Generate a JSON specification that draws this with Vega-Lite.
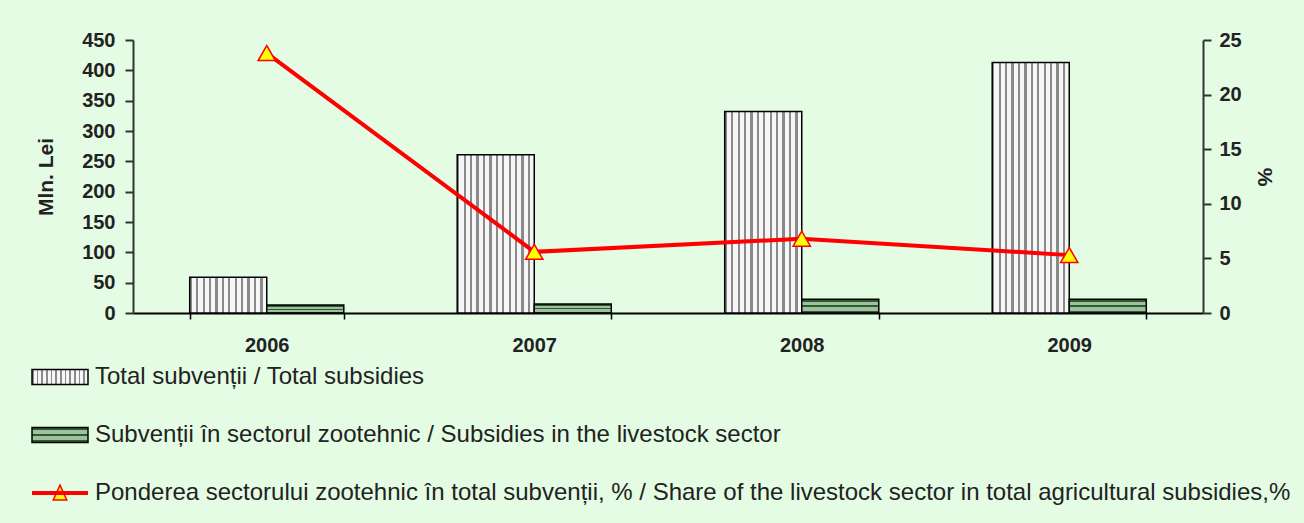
{
  "$schema": "https://vega.github.io/schema/vega-lite/v6.json",
  "width": 1070,
  "height": 273,
  "autosize": {"type": "none"},
  "padding": {"left": 133, "top": 40, "right": 101, "bottom": 210},
  "background": "#e4fce4",
  "config": {"view": {"stroke": null}, "font": "Liberation Sans"},
  "datasets": {
    "bars": [
      {"year": "2006", "series": "Total subvenții / Total subsidies", "value": 59},
      {"year": "2007", "series": "Total subvenții / Total subsidies", "value": 261},
      {"year": "2008", "series": "Total subvenții / Total subsidies", "value": 332},
      {"year": "2009", "series": "Total subvenții / Total subsidies", "value": 413},
      {"year": "2006", "series": "Subvenții în sectorul zootehnic / Subsidies in the livestock sector", "value": 13.2},
      {"year": "2007", "series": "Subvenții în sectorul zootehnic / Subsidies in the livestock sector", "value": 14.8},
      {"year": "2008", "series": "Subvenții în sectorul zootehnic / Subsidies in the livestock sector", "value": 22.6},
      {"year": "2009", "series": "Subvenții în sectorul zootehnic / Subsidies in the livestock sector", "value": 22.8}
    ],
    "share": [
      {"year": "2006", "pct": 23.8},
      {"year": "2007", "pct": 5.6},
      {"year": "2008", "pct": 6.8},
      {"year": "2009", "pct": 5.3}
    ]
  },
  "layer": [
    {
      "data": {"name": "bars"},
      "mark": {"type": "bar", "stroke": "#000000", "strokeWidth": 1.5},
      "encoding": {
        "x": {
          "field": "year", "type": "nominal",
          "scale": {"paddingInner": 0.424, "paddingOuter": 0.212},
          "axis": {
            "title": null, "labelAngle": 0, "labelFontSize": 20, "labelFontWeight": "bold", "labelColor": "#222222",
            "tickBand": "extent", "tickSize": 6, "labelPadding": 16,
            "domainColor": "#000000", "domainWidth": 2, "tickColor": "#000000", "tickWidth": 1.5
          }
        },
        "xOffset": {
          "field": "series", "type": "nominal",
          "sort": ["Total subvenții / Total subsidies", "Subvenții în sectorul zootehnic / Subsidies in the livestock sector"],
          "scale": {"paddingInner": 0, "paddingOuter": 0}
        },
        "y": {
          "field": "value", "type": "quantitative",
          "scale": {"domain": [0, 450], "nice": false},
          "axis": {
            "title": "Mln. Lei", "values": [0, 50, 100, 150, 200, 250, 300, 350, 400, 450],
            "grid": false, "tickSize": 8, "labelPadding": 10, "titlePadding": 25,
            "labelFontSize": 20, "labelFontWeight": "bold", "labelColor": "#222222",
            "titleFontSize": 21, "titleFontWeight": "bold", "titleColor": "#222222",
            "domainColor": "#333333", "domainWidth": 2, "tickColor": "#333333", "tickWidth": 2
          }
        },
        "fill": {
          "field": "series", "type": "nominal",
          "scale": {
            "domain": [
              "Total subvenții / Total subsidies",
              "Subvenții în sectorul zootehnic / Subsidies in the livestock sector",
              "Ponderea sectorului zootehnic în total subvenții, % / Share of the livestock sector in total agricultural subsidies,%"
            ],
            "range": [
              {"expr": "{gradient:'linear',x1:0,y1:0,x2:1,y2:0,stops:[{offset:0,color:'#8a8a8a'},{offset:0.0292,color:'#8a8a8a'},{offset:0.0292,color:'#f6f6f6'},{offset:0.0833,color:'#f6f6f6'},{offset:0.0833,color:'#8a8a8a'},{offset:0.1125,color:'#8a8a8a'},{offset:0.1125,color:'#f6f6f6'},{offset:0.1667,color:'#f6f6f6'},{offset:0.1667,color:'#8a8a8a'},{offset:0.1958,color:'#8a8a8a'},{offset:0.1958,color:'#f6f6f6'},{offset:0.25,color:'#f6f6f6'},{offset:0.25,color:'#8a8a8a'},{offset:0.2792,color:'#8a8a8a'},{offset:0.2792,color:'#f6f6f6'},{offset:0.3333,color:'#f6f6f6'},{offset:0.3333,color:'#8a8a8a'},{offset:0.3625,color:'#8a8a8a'},{offset:0.3625,color:'#f6f6f6'},{offset:0.4167,color:'#f6f6f6'},{offset:0.4167,color:'#8a8a8a'},{offset:0.4458,color:'#8a8a8a'},{offset:0.4458,color:'#f6f6f6'},{offset:0.5,color:'#f6f6f6'},{offset:0.5,color:'#8a8a8a'},{offset:0.5292,color:'#8a8a8a'},{offset:0.5292,color:'#f6f6f6'},{offset:0.5833,color:'#f6f6f6'},{offset:0.5833,color:'#8a8a8a'},{offset:0.6125,color:'#8a8a8a'},{offset:0.6125,color:'#f6f6f6'},{offset:0.6667,color:'#f6f6f6'},{offset:0.6667,color:'#8a8a8a'},{offset:0.6958,color:'#8a8a8a'},{offset:0.6958,color:'#f6f6f6'},{offset:0.75,color:'#f6f6f6'},{offset:0.75,color:'#8a8a8a'},{offset:0.7792,color:'#8a8a8a'},{offset:0.7792,color:'#f6f6f6'},{offset:0.8333,color:'#f6f6f6'},{offset:0.8333,color:'#8a8a8a'},{offset:0.8625,color:'#8a8a8a'},{offset:0.8625,color:'#f6f6f6'},{offset:0.9167,color:'#f6f6f6'},{offset:0.9167,color:'#8a8a8a'},{offset:0.9458,color:'#8a8a8a'},{offset:0.9458,color:'#f6f6f6'},{offset:1,color:'#f6f6f6'}]}"},
              {"expr": "{gradient:'linear',x1:0,y1:0,x2:0,y2:1,stops:[{offset:0,color:'#2f5c2f'},{offset:0.2,color:'#2f5c2f'},{offset:0.2,color:'#9fc09f'},{offset:0.45,color:'#9fc09f'},{offset:0.45,color:'#2f5c2f'},{offset:0.58,color:'#2f5c2f'},{offset:0.58,color:'#9fc09f'},{offset:0.85,color:'#9fc09f'},{offset:0.85,color:'#2f5c2f'},{offset:1,color:'#2f5c2f'}]}"},
              "#ffff00"
            ]
          },
          "legend": {
            "orient": "none", "legendX": -102, "legendY": 308, "direction": "vertical",
            "title": null, "symbolSize": 3136, "symbolStrokeWidth": 1.5, "labelFontSize": 24, "labelColor": "#222222",
            "labelLimit": 1300, "labelOffset": 6, "rowPadding": 17,
            "encoding": {
              "symbols": {
                "shape": {"value": {"expr": "datum.index == 2 ? 'M-1,-0.045H1M-1,-0.015H1M-1,0.015H1M-1,0.045H1M0,-0.28L0.24,0.25L-0.24,0.25Z' : 'M-1,-0.27H1V0.27H-1Z'"}},
                "stroke": {"value": {"expr": "datum.index == 2 ? '#ff0000' : '#000000'"}},
                "opacity": {"value": 1}
              }
            }
          }
        }
      }
    },
    {
      "data": {"name": "share"},
      "encoding": {
        "x": {"field": "year", "type": "nominal"},
        "y": {
          "field": "pct", "type": "quantitative",
          "scale": {"domain": [0, 25], "nice": false},
          "axis": {
            "orient": "right", "title": "%", "values": [0, 5, 10, 15, 20, 25],
            "grid": false, "tickSize": 8, "labelPadding": 8, "titlePadding": 12,
            "labelFontSize": 20, "labelFontWeight": "bold", "labelColor": "#222222",
            "titleFontSize": 21, "titleFontWeight": "bold", "titleColor": "#222222",
            "domainColor": "#333333", "domainWidth": 2, "tickColor": "#333333", "tickWidth": 2
          }
        }
      },
      "layer": [
        {"mark": {"type": "line", "color": "#ff0000", "strokeWidth": 4}},
        {"mark": {"type": "point", "shape": "triangle-up", "filled": true, "fill": "#ffff00", "stroke": "#ff0000", "strokeWidth": 1.5, "size": 300, "opacity": 1}}
      ]
    }
  ],
  "resolve": {"scale": {"y": "independent"}}
}
